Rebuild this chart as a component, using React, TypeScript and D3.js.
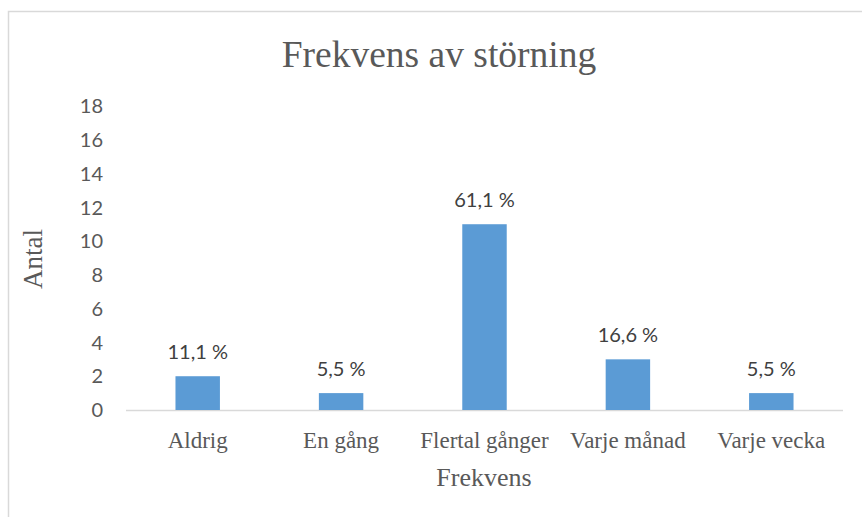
import React from 'react';
import * as d3 from 'd3';

const categories = ['Aldrig', 'En gång', 'Flertal gånger', 'Varje månad', 'Varje vecka'];
const counts = [2, 1, 11, 3, 1];
const percentLabels = ['11,1 %', '5,5 %', '61,1 %', '16,6 %', '5,5 %'];
const yTicks = [0, 2, 4, 6, 8, 10, 12, 14, 16, 18];

const W = 862;
const H = 517;
const serif = '"Liberation Serif", "Times New Roman", serif';
const sans = 'Lato, "Open Sans", sans-serif';
const textColor = '#595959';

const App: React.FC = () => {
  const x = d3.scaleBand().domain(categories).range([126, 843]).padding(0);
  const y = d3.scaleLinear().domain([0, 18]).range([410, 106]);
  const barW = x.bandwidth() * 0.31;

  return (
    <svg
      width={W}
      height={H}
      style={{ position: 'absolute', left: 0, top: 0, background: '#fff' }}
    >
      <rect x={8.5} y={11.5} width={W} height={H} fill="#fff" stroke="#d9d9d9" strokeWidth={1.5} />
      <text x={439} y={67} textAnchor="middle" fontFamily={serif} fontSize={37.5} fill={textColor}>
        Frekvens av störning
      </text>
      {yTicks.map((t) => (
        <text
          key={t}
          x={103}
          y={y(t)}
          dy="0.36em"
          textAnchor="end"
          fontFamily={sans}
          fontSize={20}
          fill={textColor}
        >
          {t}
        </text>
      ))}
      <line x1={x.range()[0]} x2={x.range()[1]} y1={y(0) + 0.5} y2={y(0) + 0.5} stroke="#d9d9d9" strokeWidth={1.5} />
      {categories.map((c, i) => {
        const cx = x(c)! + x.bandwidth() / 2;
        return (
          <g key={c}>
            <rect x={cx - barW / 2} y={y(counts[i])} width={barW} height={y(0) - y(counts[i])} fill="#5b9bd5" />
            <text
              x={cx}
              y={y(counts[i]) - 17}
              textAnchor="middle"
              fontFamily={sans}
              fontSize={20}
              fill="#404040"
            >
              {percentLabels[i]}
            </text>
            <text x={cx} y={448} textAnchor="middle" fontFamily={serif} fontSize={23} fill={textColor}>
              {c}
            </text>
          </g>
        );
      })}
      <text x={484} y={486} textAnchor="middle" fontFamily={serif} fontSize={26} fill={textColor}>
        Frekvens
      </text>
      <text
        transform={`translate(42,${259}) rotate(-90)`}
        textAnchor="middle"
        fontFamily={serif}
        fontSize={27}
        fill={textColor}
      >
        Antal
      </text>
    </svg>
  );
};

export default App;
